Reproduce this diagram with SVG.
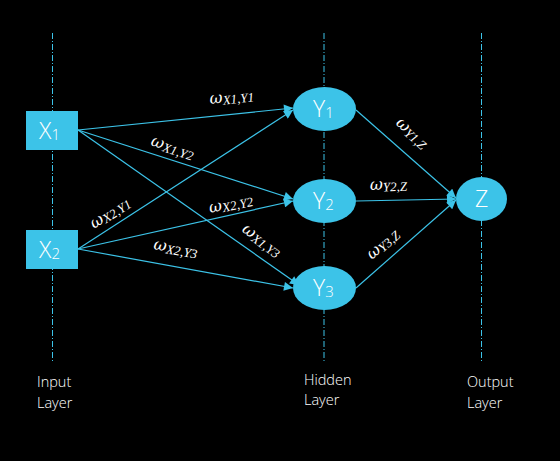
<svg xmlns="http://www.w3.org/2000/svg" width="560" height="461" viewBox="0 0 560 461">
<defs>
<marker id="ah" viewBox="0 0 10 10" refX="10" refY="5" markerWidth="10" markerHeight="9" markerUnits="userSpaceOnUse" orient="auto">
<path d="M0,0 L10,5 L0,10 z" fill="#3CC3E8"/>
</marker>
</defs>
<style>
.guide{stroke:#3CC3E8;stroke-width:1;stroke-dasharray:6 2 1 2;fill:none}
.edge{stroke:#3CC3E8;stroke-width:1.2;fill:none;marker-end:url(#ah)}
.node{fill:#3CC3E8}
.nt{fill:#ffffff;font-family:"Open Sans","Noto Sans",sans-serif;font-weight:300;font-size:23px}
.sub{font-size:15px}
.w{fill:#ffffff;font-family:"DejaVu Serif","Liberation Serif",serif;font-style:italic;font-size:16px}
.ws{font-family:"Liberation Serif","DejaVu Serif",serif;font-style:italic;font-size:13px}
.lay{fill:#ffffff;font-family:"Open Sans","Noto Sans",sans-serif;font-weight:300;font-size:14.5px}
</style>
<rect width="560" height="461" fill="#000000"/>
<g id="guides">
<line class="guide" x1="52.5" y1="33" x2="52.5" y2="362"/>
<line class="guide" x1="324" y1="33" x2="324" y2="362"/>
<line class="guide" x1="481.5" y1="33" x2="481.5" y2="362"/>
</g>
<g id="connectors">
<line class="edge" x1="78" y1="130" x2="293" y2="108"/>
<line class="edge" x1="78" y1="130" x2="293" y2="199"/>
<line class="edge" x1="78" y1="130" x2="299" y2="285"/>
<line class="edge" x1="78" y1="249" x2="293" y2="110"/>
<line class="edge" x1="78" y1="249" x2="293" y2="201"/>
<line class="edge" x1="78" y1="249" x2="293" y2="288"/>
<line class="edge" x1="356" y1="110" x2="456" y2="198"/>
<line class="edge" x1="356" y1="201" x2="456" y2="199"/>
<line class="edge" x1="356" y1="288" x2="456" y2="200"/>
</g>
<g id="weights">
<text class="w" transform="translate(210,104) rotate(-6)">ω<tspan class="ws" dy="2">X1,Y1</tspan></text>
<text class="w" transform="translate(150,145) rotate(18)">ω<tspan class="ws" dy="2">X1,Y2</tspan></text>
<text class="w" transform="translate(94,229) rotate(-33)">ω<tspan class="ws" dy="2">X2,Y1</tspan></text>
<text class="w" transform="translate(210,213) rotate(-12)">ω<tspan class="ws" dy="2">X2,Y2</tspan></text>
<text class="w" transform="translate(153,249) rotate(10)">ω<tspan class="ws" dy="2">X2,Y3</tspan></text>
<text class="w" transform="translate(241,231) rotate(36)">ω<tspan class="ws" dy="2">X1,Y3</tspan></text>
<text class="w" transform="translate(395,124) rotate(42)">ω<tspan class="ws" dy="2">Y1,Z</tspan></text>
<text class="w" transform="translate(370,190) rotate(-2)">ω<tspan class="ws" dy="2">Y2,Z</tspan></text>
<text class="w" transform="translate(372,260) rotate(-42)">ω<tspan class="ws" dy="2">Y3,Z</tspan></text>
</g>
<g id="X1">
<rect class="node" x="26" y="111" width="52" height="39"/>
<text class="nt" x="39" y="139">X<tspan class="sub" dy="1">1</tspan></text>
</g>
<g id="X2">
<rect class="node" x="26" y="230" width="52" height="39"/>
<text class="nt" x="39" y="258">X<tspan class="sub" dy="1">2</tspan></text>
</g>
<g id="Y1">
<ellipse class="node" cx="324.5" cy="109" rx="31.5" ry="22"/>
<text class="nt" x="313" y="117">Y<tspan class="sub" dy="1">1</tspan></text>
</g>
<g id="Y2">
<ellipse class="node" cx="324.5" cy="201" rx="31.5" ry="22"/>
<text class="nt" x="313" y="209">Y<tspan class="sub" dy="1">2</tspan></text>
</g>
<g id="Y3">
<ellipse class="node" cx="324.5" cy="288" rx="31.5" ry="22"/>
<text class="nt" x="313" y="296">Y<tspan class="sub" dy="1">3</tspan></text>
</g>
<g id="Z">
<ellipse class="node" cx="481.5" cy="199" rx="25.5" ry="22"/>
<text class="nt" x="481.5" y="207" text-anchor="middle">Z</text>
</g>
<g id="labels">
<text class="lay" x="37" y="387">Input</text>
<text class="lay" x="37" y="408">Layer</text>
<text class="lay" x="304" y="385">Hidden</text>
<text class="lay" x="304" y="405">Layer</text>
<text class="lay" x="467" y="387">Output</text>
<text class="lay" x="467" y="408">Layer</text>
</g>
</svg>
